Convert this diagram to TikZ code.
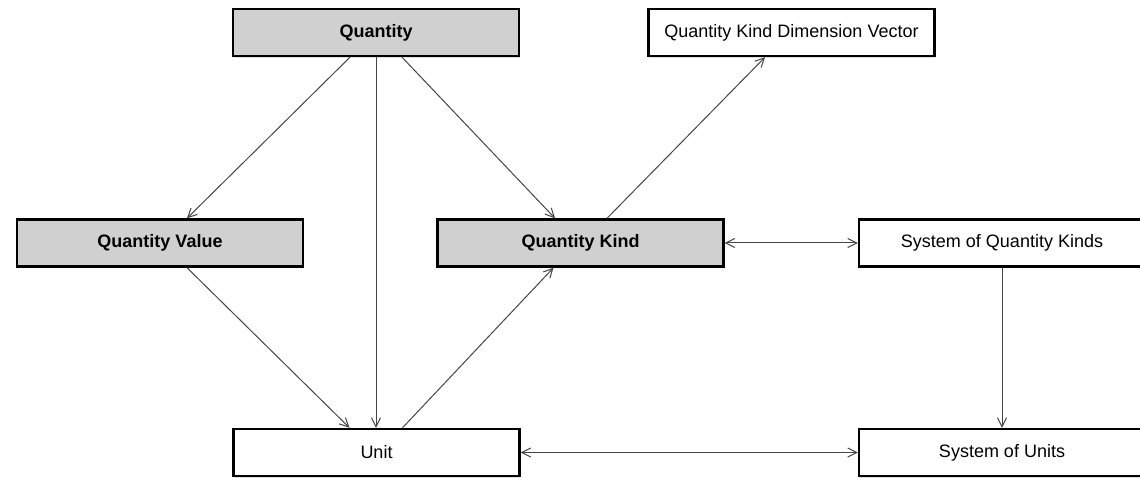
\documentclass[tikz,border=0pt]{standalone}
\usepackage{fontspec}
\setmainfont{Liberation Sans}
\usetikzlibrary{arrows.meta,calc,shadows}

\definecolor{boxgray}{RGB}{208,208,208}
\definecolor{linkgray}{RGB}{70,70,70}

\tikzset{
  entity/.style={draw=black, line width=2.4pt, fill=white,
    minimum width=286pt, minimum height=47pt, inner sep=0pt,
    font=\fontsize{18}{21}\selectfont,
    drop shadow={shadow xshift=0.6pt, shadow yshift=-1.8pt, opacity=0.25}},
  core/.style={entity, fill=boxgray, font=\fontsize{18}{21}\selectfont\bfseries},
  link/.style={draw=linkgray, line width=1pt,
    -{Straight Barb[length=9pt,width=9pt,line width=1pt]}},
  twoway/.style={link, {Straight Barb[length=9pt,width=9pt,line width=1pt]}-{Straight Barb[length=9pt,width=9pt,line width=1pt]}}
}

\begin{document}
\begin{tikzpicture}[x=1pt,y=-1pt]
  \useasboundingbox (0,0) rectangle (1140,478);

  % upper row
  \node[core]   (q)    at (376,32.5)   {Quantity};
  \node[entity] (qkdv) at (791.5,32.5) {Quantity Kind Dimension Vector};

  % middle row
  \node[core]   (qv)   at (160,243)    {Quantity Value};
  \node[core]   (qk)   at (580.5,243)  {Quantity Kind};
  \node[entity] (sqk)  at (1002,243)   {System of Quantity Kinds};

  % lower row
  \node[entity] (unit) at (376.5,452.5) {Unit};
  \node[entity] (sou)  at (1002,452.5)  {System of Units};

  % relations
  \draw[link] ($(q.south)+(-26,0)$) -- ($(qv.north)+(27,0)$);
  \draw[link] (q.south) -- (q.south |- unit.north);
  \draw[link] ($(q.south)+(26,0)$) -- ($(qk.north)+(-25.5,0)$);
  \draw[link] ($(qk.north)+(26.5,0)$) -- ($(qkdv.south)+(-26.5,0)$);
  \draw[link] ($(qv.south)+(27,0)$) -- ($(unit.north)+(-27,0)$);
  \draw[link] ($(unit.north)+(26,0)$) -- ($(qk.south)+(-27,0)$);
  \draw[twoway] (qk.east) -- (qk.east -| sqk.west);
  \draw[link] (sqk.south) -- (sqk.south |- sou.north);
  \draw[twoway] (unit.east) -- (unit.east -| sou.west);
\end{tikzpicture}
\end{document}
